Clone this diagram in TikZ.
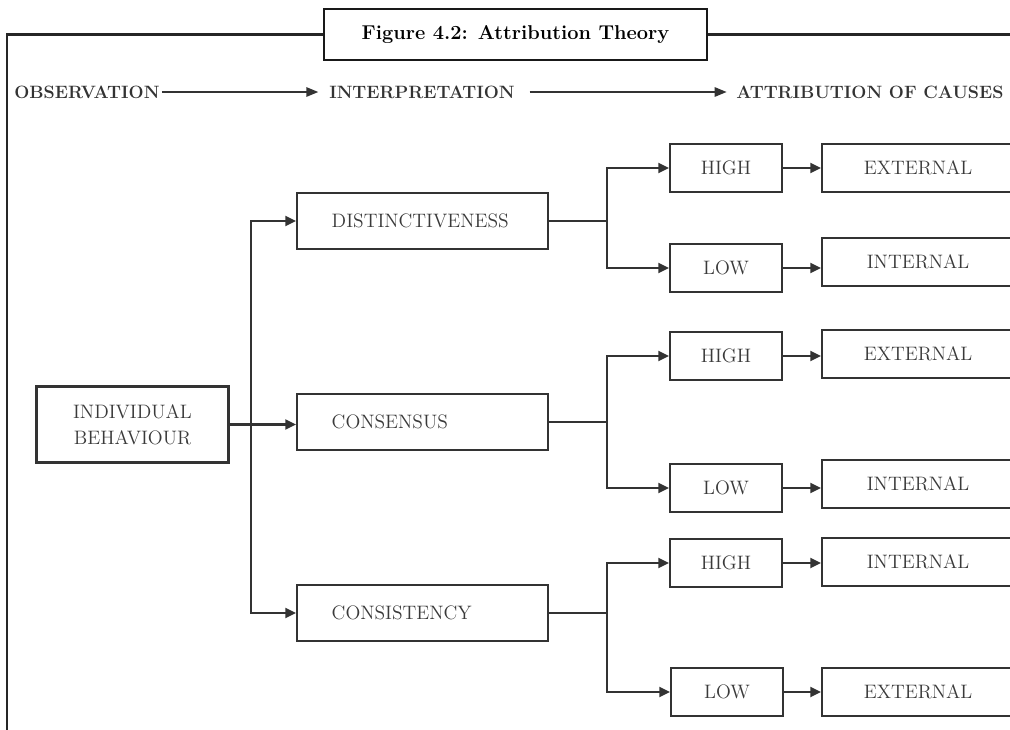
\documentclass[tikz,border=0pt]{standalone}
\usepackage{fontspec}
\usetikzlibrary{arrows.meta,positioning}
\definecolor{inkgray}{HTML}{333333}
\definecolor{txtgray}{HTML}{3A3A3A}

\begin{document}
\begin{tikzpicture}[x=0.75pt,y=-0.75pt,
		box/.style={draw=inkgray,line width=1.6pt,text=txtgray,inner sep=0pt,font=\fontsize{14.6}{19.5}\selectfont,align=center},
		smallbox/.style={box,minimum width=84pt,minimum height=36pt},
		causebox/.style={box,anchor=west,minimum width=144pt,minimum height=36pt},
		midbox/.style={box,anchor=west,minimum height=42pt,text width=136pt,inner xsep=26pt,align=left},
		head/.style={inner sep=0pt,anchor=west,text=inkgray,font=\bfseries\fontsize{13.4}{16}\selectfont},
		link/.style={draw=inkgray,line width=1.6pt},
		arr/.style={link,-{Triangle[length=8pt,width=7.5pt]}},
		headarr/.style={draw=inkgray,line width=1.4pt,-{Triangle[length=9pt,width=7pt]}}]
		%%%%% START %%%%%
		
		\useasboundingbox (0,0) rectangle (1010,729);
		\clip (0,0) rectangle (1010,729);
		
		% title and frame
		\node[draw=black!90,line width=1.8pt,minimum width=287pt,minimum height=38pt,inner sep=0pt,
			font=\bfseries\fontsize{15}{18}\selectfont] (title) at (515.5,34.5) {Figure 4.2: Attribution Theory};
		\draw[draw=black!85,line width=2pt] (title.west) -| (7,735);
		\draw[draw=black!85,line width=2pt] (title.east) -- (1015,34.5);
		
		% header row
		\node[head] (obs) at (14,92) {OBSERVATION};
		\node[head] (interp) at (329,92) {INTERPRETATION};
		\node[head] (attr) at (736,92) {ATTRIBUTION OF CAUSES};
		\draw[headarr,shorten <=1.5pt,shorten >=8pt] (obs) -- (interp);
		\draw[headarr,shorten <=11pt,shorten >=7pt] (interp) -- (attr);
		
		% observation and interpretation
		\node[box,minimum width=144pt,minimum height=57pt] (indiv) at (132.5,424.5) {INDIVIDUAL\\BEHAVIOUR};
		\node[midbox] (dist) at (296,221) {DISTINCTIVENESS};
		\node[midbox] (cons) at (296,422) {CONSENSUS};
		\node[midbox] (consis) at (296,613) {CONSISTENCY};
		
		\coordinate (trunk) at (251,424.5);
		\draw[arr] (indiv) -- (indiv -| cons.west);
		\draw[arr] (trunk) |- (dist.west);
		\draw[arr] (trunk) |- (consis.west);
		
		% high / low
		\node[smallbox] (hiA) at (726,168) {HIGH};
		\node[smallbox] (loA) at (726,268) {LOW};
		\node[smallbox] (hiB) at (726,356) {HIGH};
		\node[smallbox] (loB) at (726,488) {LOW};
		\node[smallbox] (hiC) at (726,563) {HIGH};
		\node[smallbox] (loC) at (727,692) {LOW};
		
		% causes
		\node[causebox] (extA) at (821,168) {EXTERNAL};
		\node[causebox] (intA) at (821,262) {INTERNAL};
		\node[causebox] (extB) at (821,354) {EXTERNAL};
		\node[causebox] (intB) at (821,484) {INTERNAL};
		\node[causebox] (intC) at (821,562) {INTERNAL};
		\node[causebox] (extC) at (821,692) {EXTERNAL};
		
		\coordinate (split) at (607,0);
		\foreach \m/\h/\l in {dist/hiA/loA, cons/hiB/loB, consis/hiC/loC}{
			\draw[link] (\m.east) -- (\m.east -| split) coordinate (br);
			\draw[arr] (br) |- (\h);
			\draw[arr] (br) |- (\l);
		}
		\foreach \a/\b in {hiA/extA, loA/intA, hiB/extB, loB/intB, hiC/intC, loC/extC}
			\draw[arr] (\a) -- (\a -| \b.west);
		
		%%%%% END %%%%%
\end{tikzpicture}
\end{document}
